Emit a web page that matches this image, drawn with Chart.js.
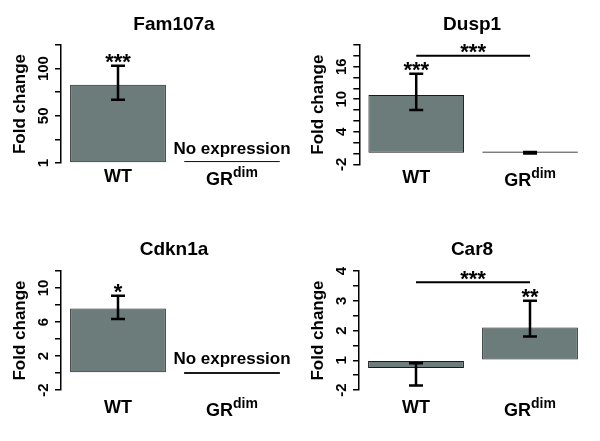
<!DOCTYPE html>
<html><head><meta charset="utf-8">
<script src="https://cdn.jsdelivr.net/npm/chart.js@4.4.1/dist/chart.umd.min.js"></script>
<style>
html,body{margin:0;padding:0;background:#fff;}
#wrap{position:relative;width:600px;height:441px;overflow:hidden;background:#fff;}
canvas{position:absolute;}
</style></head><body>
<div id="wrap">
<canvas id="c1" width="300" height="220" style="left:0;top:0"></canvas>
<canvas id="c2" width="300" height="220" style="left:300px;top:0"></canvas>
<canvas id="c3" width="300" height="221" style="left:0;top:220px"></canvas>
<canvas id="c4" width="300" height="221" style="left:300px;top:220px"></canvas>
</div>
<script>
// ---------- data ----------
const categories = ["WT", "GR"];
const categorySuperscripts = ["", "dim"];
const panelTitles = ["Fam107a", "Dusp1", "Cdkn1a", "Car8"];
const yAxisTitle = "Fold change";

const fam107aValues = [83, 0];
const fam107aErrLow = [67, null];
const fam107aErrHigh = [103, null];
const fam107aStars = ["***", ""];
const fam107aNotes = ["", "No expression"];
const fam107aTicks = [0, 25, 50, 75, 100, 125];
const fam107aTickLabels = ["1", "", "50", "", "100", ""];

const dusp1Values = [10.8, 0.1];
const dusp1ErrLow = [8.0, 0];
const dusp1ErrHigh = [14.7, 0.25];
const dusp1Stars = ["***", ""];
const dusp1Notes = ["", ""];
const dusp1SigLevel = 18;
const dusp1SigLabel = "***";
const dusp1Ticks = [-2, 0, 2, 4, 6, 8, 10, 12, 14, 16, 18, 20];
const dusp1TickLabels = ["-2", "", "", "4", "", "", "10", "", "", "16", "", ""];

const cdkn1aValues = [7.6, 0];
const cdkn1aErrLow = [6.35, null];
const cdkn1aErrHigh = [9.1, null];
const cdkn1aStars = ["*", ""];
const cdkn1aNotes = ["", "No expression"];
const cdkn1aTicks = [-2, 0, 2, 4, 6, 8, 10, 12];
const cdkn1aTickLabels = ["-2", "", "2", "", "6", "", "10", ""];

const car8Base = 1;
const car8Values = [0.74, 2.1];
const car8ErrLow = [0.15, 1.8];
const car8ErrHigh = [0.9, 3.0];
const car8Stars = ["", "**"];
const car8Notes = ["", ""];
const car8SigLevel = 3.62;
const car8SigLabel = "***";
const car8Ticks = [0, 0.5, 1, 1.5, 2, 2.5, 3, 3.5, 4];
const car8TickLabels = ["-2", "", "1", "", "2", "", "3", "", "4"];

// ---------- layout / style ----------
const layouts = [
  {id:'c1', h:220, left:61,   right:289, top:45, bottom:163,   titleY:30, labelY:182},
  {id:'c2', h:220, left:59.3, right:287, top:45, bottom:164.3, titleY:30, labelY:183},
  {id:'c3', h:221, left:61,   right:289, top:51, bottom:170,   titleY:35, labelY:193},
  {id:'c4', h:221, left:59,   right:287, top:51, bottom:170,   titleY:35, labelY:193}
];
const FF = "'Liberation Sans', Arial, Helvetica, sans-serif";
const BAR_FILL = '#6b7c7b';

function rotText(ctx, txt, x, y, font) {
  ctx.save();
  ctx.translate(x, y);
  ctx.rotate(-Math.PI / 2);
  ctx.font = font;
  ctx.textAlign = 'center';
  ctx.textBaseline = 'alphabetic';
  ctx.fillText(txt, 0, 0);
  ctx.restore();
}

// draw text so that its visible glyph bottom sits at bottomY
function textAbove(ctx, txt, x, bottomY, font) {
  ctx.font = font;
  ctx.textAlign = 'center';
  ctx.textBaseline = 'alphabetic';
  const m = ctx.measureText(txt);
  const desc = (m.actualBoundingBoxDescent !== undefined) ? m.actualBoundingBoxDescent : -8;
  ctx.fillText(txt, x, bottomY - desc);
}

function makePanel(k, d) {
  const L = layouts[k];
  const ticks = d.ticks;
  const ds = {
    data: d.values,
    backgroundColor: BAR_FILL,
    borderColor: '#1a1a1a',
    borderWidth: 1,
    borderSkipped: false,
    minBarLength: 2,
    barPercentage: 0.84,
    categoryPercentage: 1,
    clip: false
  };
  if (d.base !== undefined) ds.base = d.base;

  const annot = {
    id: 'annot' + k,
    afterDraw(chart) {
      const ctx = chart.ctx;
      const ys = chart.scales.y;
      const meta = chart.getDatasetMeta(0);
      const ca = chart.chartArea;
      ctx.save();
      ctx.fillStyle = '#000';
      ctx.strokeStyle = '#000';

      // title
      ctx.font = 'bold 19px ' + FF;
      ctx.textAlign = 'center';
      ctx.textBaseline = 'alphabetic';
      ctx.fillText(panelTitles[k], (ca.left + ca.right) / 2 - 1, L.titleY);

      // y tick labels
      ticks.forEach((v, i) => {
        const lab = d.tickLabels[i];
        if (lab) rotText(ctx, lab, ca.left - 13.5, ys.getPixelForValue(v), 'bold 15px ' + FF);
      });
      // y title
      rotText(ctx, yAxisTitle, ca.left - 36, (ca.top + ca.bottom) / 2, 'bold 17px ' + FF);

      // error bars, stars, notes, x labels
      meta.data.forEach((bar, i) => {
        const x = bar.x;
        const lo = d.errLow[i], hi = d.errHigh[i];
        let starRef = null;
        if (lo !== null && hi !== null) {
          const yl = ys.getPixelForValue(lo), yh = ys.getPixelForValue(hi);
          ctx.lineWidth = 2.5;
          ctx.lineCap = 'butt';
          ctx.beginPath();
          ctx.moveTo(x, yl); ctx.lineTo(x, yh);
          ctx.moveTo(x - 7, yl); ctx.lineTo(x + 7, yl);
          ctx.moveTo(x - 7, yh); ctx.lineTo(x + 7, yh);
          ctx.stroke();
          starRef = Math.min(yl, yh);
        }
        if (d.stars[i] && starRef !== null) {
          textAbove(ctx, d.stars[i], x, starRef - 3, 'bold 22px ' + FF);
        }
        if (d.notes[i]) {
          const basePx = ys.getPixelForValue(d.base !== undefined ? d.base : 0);
          ctx.font = 'bold 17px ' + FF;
          ctx.textAlign = 'center';
          ctx.textBaseline = 'alphabetic';
          ctx.fillText(d.notes[i], x, basePx - 9.5);
        }
        // x category label
        ctx.textBaseline = 'alphabetic';
        ctx.textAlign = 'left';
        ctx.font = 'bold 18px ' + FF;
        const w1 = ctx.measureText(categories[i]).width;
        let w2 = 0;
        if (categorySuperscripts[i]) {
          ctx.font = 'bold 14px ' + FF;
          w2 = ctx.measureText(categorySuperscripts[i]).width;
        }
        const sx = x - (w1 + w2) / 2;
        const by = L.labelY + (categorySuperscripts[i] ? 3 : 0);
        ctx.font = 'bold 18px ' + FF;
        ctx.fillText(categories[i], sx, by);
        if (categorySuperscripts[i]) {
          ctx.font = 'bold 14px ' + FF;
          ctx.fillText(categorySuperscripts[i], sx + w1, by - 8);
        }
      });

      // significance bracket
      if (d.sigLevel !== undefined) {
        const y = ys.getPixelForValue(d.sigLevel);
        const x0 = meta.data[0].x, x1 = meta.data[1].x;
        ctx.lineWidth = 2;
        ctx.beginPath();
        ctx.moveTo(x0, y); ctx.lineTo(x1, y);
        ctx.stroke();
        textAbove(ctx, d.sigLabel, (x0 + x1) / 2, y - 2.5, 'bold 22px ' + FF);
      }
      ctx.restore();
    }
  };

  return new Chart(document.getElementById(L.id), {
    type: 'bar',
    data: { labels: categories, datasets: [ds] },
    options: {
      responsive: false,
      animation: false,
      devicePixelRatio: 1,
      layout: { padding: { left: 0, right: 300 - L.right, top: L.top, bottom: L.h - L.bottom } },
      plugins: { legend: { display: false }, tooltip: { enabled: false }, title: { display: false } },
      scales: {
        x: { display: false },
        y: {
          min: ticks[0],
          max: ticks[ticks.length - 1],
          afterBuildTicks: s => { s.ticks = ticks.map(v => ({ value: v })); },
          afterFit: s => { s.width = L.left; },
          ticks: { display: false },
          grid: { drawOnChartArea: false, drawTicks: true, tickLength: 6, color: '#000', lineWidth: 1.5 },
          border: { display: true, color: '#000', width: 1.5 }
        }
      }
    },
    plugins: [annot]
  });
}

makePanel(0, {values: fam107aValues, errLow: fam107aErrLow, errHigh: fam107aErrHigh, stars: fam107aStars,
  notes: fam107aNotes, ticks: fam107aTicks, tickLabels: fam107aTickLabels});
makePanel(1, {values: dusp1Values, errLow: dusp1ErrLow, errHigh: dusp1ErrHigh, stars: dusp1Stars,
  notes: dusp1Notes, ticks: dusp1Ticks, tickLabels: dusp1TickLabels, sigLevel: dusp1SigLevel, sigLabel: dusp1SigLabel});
makePanel(2, {values: cdkn1aValues, errLow: cdkn1aErrLow, errHigh: cdkn1aErrHigh, stars: cdkn1aStars,
  notes: cdkn1aNotes, ticks: cdkn1aTicks, tickLabels: cdkn1aTickLabels});
makePanel(3, {values: car8Values, base: car8Base, errLow: car8ErrLow, errHigh: car8ErrHigh, stars: car8Stars,
  notes: car8Notes, ticks: car8Ticks, tickLabels: car8TickLabels, sigLevel: car8SigLevel, sigLabel: car8SigLabel});
</script>
</body></html>
